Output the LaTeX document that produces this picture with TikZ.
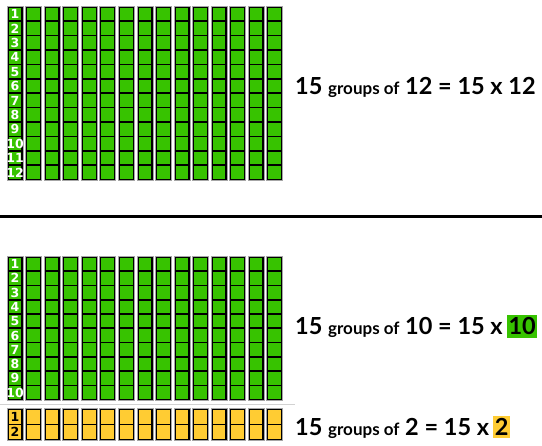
\documentclass[tikz,border=0pt]{standalone}
\usepackage{fontspec}
\setmainfont{Lato}
\newfontfamily\cellfont{DejaVu Sans}
\definecolor{rodgreen}{RGB}{55,195,0}
\definecolor{rodyellow}{RGB}{255,204,51}
\tikzset{
  eqtext/.style={anchor=base west, inner sep=0pt, font=\bfseries\fontsize{23.5}{24}\selectfont},
  hilite/.style={anchor=base west, inner xsep=1.5pt, inner ysep=2.5pt, font=\bfseries\fontsize{23.5}{24}\selectfont},
  cellnum/.style={inner sep=0pt, font=\cellfont\bfseries\fontsize{12.5}{12}\selectfont},
  rodframe/.style={fill=black, draw=gray!70, line width=0.6pt}
}
\newcommand{\grpof}{{\fontsize{17}{16}\selectfont groups of}}
\begin{document}
\begin{tikzpicture}[x=1pt,y=-1pt]
  \useasboundingbox (0,0) rectangle (542,446);

  % 15 groups of 12
  \foreach \i in {0,...,14} {
    \pgfmathsetmacro\xl{7+18.55*\i}
    \draw[rodframe] (\xl,6) rectangle ++(16,174.4);
    \foreach \j in {0,...,11}
      \fill[rodgreen] (\xl+1.7,7.7+\j*14.4) rectangle ++(12.6,12.7);
  }
  \foreach \j [evaluate=\j as \n using int(\j+1)] in {0,...,11}
    \node[cellnum, text=white] (top\n) at (15,14.1+\j*14.4) {\n};
  \node[eqtext] (eqtop) at (295,95) {15 \grpof{} 12 = 15 x 12};

  \draw[line width=3pt] (0,216.5) -- (542,216.5);

  % 15 groups of 10
  \foreach \i in {0,...,14} {
    \pgfmathsetmacro\xl{7+18.55*\i}
    \draw[rodframe] (\xl,256) rectangle ++(16,144.7);
    \foreach \j in {0,...,9}
      \fill[rodgreen] (\xl+1.7,257.7+\j*14.3) rectangle ++(12.6,12.6);
  }
  \foreach \j [evaluate=\j as \n using int(\j+1)] in {0,...,9}
    \node[cellnum, text=white] (mid\n) at (15,264+\j*14.3) {\n};
  \node[eqtext] (eqmid) at (295,335) {15 \grpof{} 10 = 15 x\,};
  \node[hilite, fill=rodgreen] (tenbox) at (eqmid.base east) {10};

  \draw[gray!35, line width=1.2pt] (0,404.5) -- (295,404.5);

  % 15 groups of 2
  \foreach \i in {0,...,14} {
    \pgfmathsetmacro\xl{7+18.55*\i}
    \draw[rodframe] (\xl,408.5) rectangle ++(16,32.3);
    \foreach \j in {0,...,1}
      \fill[rodyellow] (\xl+1.7,410.2+\j*15.3) rectangle ++(12.6,13.6);
  }
  \foreach \j [evaluate=\j as \n using int(\j+1)] in {0,...,1}
    \node[cellnum, text=black] (low\n) at (15,417+\j*15.3) {\n};
  \node[eqtext] (eqlow) at (295,436) {15 \grpof{} 2 = 15 x\,};
  \node[hilite, fill=rodyellow] (twobox) at (eqlow.base east) {2};
\end{tikzpicture}
\end{document}
